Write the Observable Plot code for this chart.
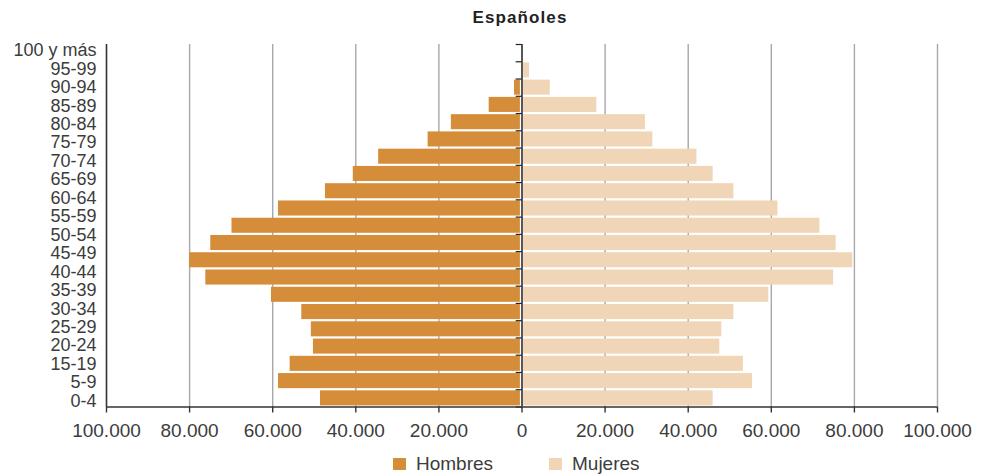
<!DOCTYPE html>
<html>
<head>
<meta charset="utf-8">
<script src="https://cdn.jsdelivr.net/npm/d3@7"></script>
<script src="https://cdn.jsdelivr.net/npm/@observablehq/plot@0.6"></script>
<style>
  html, body { margin: 0; padding: 0; background: #fff; }
  body { width: 984px; height: 475px; overflow: hidden; font-family: "Liberation Sans", Arial, sans-serif; color: #333; }
  #title { height: 30px; box-sizing: border-box; padding-left: 56px; text-align: center; font-weight: bold; font-size: 17px; letter-spacing: 1.1px; line-height: 36px; color: #222; }
  #legend { position: relative; height: 25px; font-size: 19px; color: #3c3c3c; }
  .item { position: absolute; top: 1px; display: flex; align-items: center; height: 25px; }
  .sw { width: 13px; height: 12px; margin-right: 10px; }
</style>
</head>
<body>
<div id="title">Españoles</div>
<div id="chart"></div>
<div id="legend"></div>
<script>
// Age groups (top to bottom), one bar slot each
const ageGroups = ["100 y más","95-99","90-94","85-89","80-84","75-79","70-74","65-69","60-64","55-59","50-54","45-49","40-44","35-39","30-34","25-29","20-24","15-19","10-14","5-9","0-4"];
// Y-axis tick labels as printed in the original (10-14 not printed)
const tickLabels = ["100 y más","95-99","90-94","85-89","80-84","75-79","70-74","65-69","60-64","55-59","50-54","45-49","40-44","35-39","30-34","25-29","20-24","15-19","5-9","0-4"];
// Series values
const hombres = [0,0,1800,7900,17000,22600,34500,40600,47300,58600,69800,74900,80000,76100,60300,53000,50700,50200,55800,58600,48500];
const mujeres = [0,1800,6800,18000,29700,31500,42100,46000,51000,61600,71700,75600,79600,75000,59400,51000,48100,47600,53300,55500,46000];
// X tick values
const xTicks = [-100000,-80000,-60000,-40000,-20000,0,20000,40000,60000,80000,100000];
const gridValues = [-80000,-60000,-40000,-20000,20000,40000,60000,80000,100000];
const series = ["Hombres","Mujeres"];
const colors = ["#d68d39","#f0d5b6"];

const data = ageGroups.map((g, i) => ({group: g, i, hombres: hombres[i], mujeres: mujeres[i]}));
const esFormat = d3.formatLocale({decimal: ",", thousands: ".", grouping: [3], currency: ["", " €"]}).format(",");
const labelScale = d3.scalePoint().domain(tickLabels).range([0, ageGroups.length]).padding(0.32);
const labelPos = tickLabels.map(d => labelScale(d));
const n = ageGroups.length;

const chart = Plot.plot({
  width: 984,
  height: 420,
  marginLeft: 106,
  marginRight: 47,
  marginTop: 14,
  marginBottom: 43.5,
  style: {fontFamily: '"Liberation Sans", Arial, sans-serif', fontSize: "19px", color: "#3c3c3c", background: "#fff"},
  x: {domain: [-100000, 100000]},
  y: {type: "linear", domain: [n, 0]},
  marks: [
    Plot.ruleX(gridValues, {y1: 0, y2: n, stroke: "#a8a8ac", strokeWidth: 1.4}),
    Plot.rectX(data, {x1: d => -d.hombres, x2: 0, y1: "i", y2: d => d.i + 1, insetTop: 1.1, insetBottom: 1.1, insetRight: 1.6, fill: colors[0]}),
    Plot.rectX(data, {x1: 0, x2: "mujeres", y1: "i", y2: d => d.i + 1, insetTop: 1.1, insetBottom: 1.1, insetLeft: 1.6, fill: colors[1]}),
    Plot.ruleY(d3.range(n + 1), {x1: -1400, x2: 0, stroke: "#222", strokeWidth: 1.2}),
    Plot.ruleX([0], {y1: 0, y2: n, stroke: "#111", strokeWidth: 1.4}),
    Plot.ruleX([-100000], {y1: 0, y2: n, stroke: "#333", strokeWidth: 1.6}),
    Plot.ruleY([n], {x1: -100000, x2: 100000, stroke: "#333", strokeWidth: 1.6}),
    Plot.axisX({ticks: xTicks, tickFormat: d => esFormat(Math.abs(d)), tickSize: 6, tickPadding: 10, stroke: "#333", strokeWidth: 1.4, fill: "#3c3c3c", label: null}),
    Plot.axisY({ticks: labelPos, tickFormat: (d, i) => tickLabels[i], tickSize: 0, tickPadding: 10, fontSize: 18, fill: "#3c3c3c", label: null})
  ]
});
document.getElementById("chart").append(chart);

// Legend
const legend = d3.select("#legend");
const lefts = [393, 549];
series.forEach((s, k) => {
  const it = legend.append("div").attr("class", "item").style("left", lefts[k] + "px");
  it.append("div").attr("class", "sw").style("background", colors[k]);
  it.append("span").text(s);
});
</script>
</body>
</html>
